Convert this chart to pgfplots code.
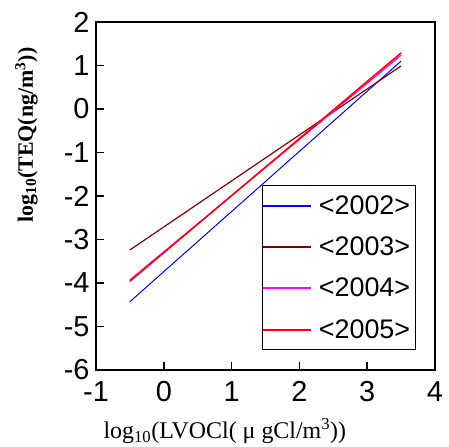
\documentclass[border=0pt]{standalone}
\usepackage{fontspec}
\setmainfont{Liberation Sans}
\newfontfamily\serif{Liberation Serif}
\usepackage{pgfplots}
\pgfplotsset{compat=1.18}
\usetikzlibrary{calc}

\definecolor{c2002}{RGB}{0,0,255}
\definecolor{c2003}{RGB}{128,0,0}
\definecolor{c2004}{RGB}{255,0,255}
\definecolor{c2005}{RGB}{255,0,0}

\begin{document}
\begin{tikzpicture}
  \begin{axis}[
    name=ax,
    scale only axis,
    width=339bp, height=348bp,
    xmin=-1, xmax=4, ymin=-6, ymax=2,
    xtick={-1,0,1,2,3,4}, ytick={-6,-5,-4,-3,-2,-1,0,1,2},
    xtick pos=left, ytick pos=left,
    tick align=inside,
    major tick length=8bp,
    axis line style={line width=1.2pt},
    tick style={line width=1.6pt, black},
    /pgf/number format/assume math mode=true,
    tick label style={font=\fontsize{29}{30}\selectfont},
    xticklabel style={yshift=-8bp},
    yticklabel style={xshift=-3bp},
    xlabel={\serif log\textsubscript{10}(LVOCl( μ gCl/m\textsuperscript{3}))},
    ylabel={\serif\bfseries log\textsubscript{10}(TEQ(ng/m\textsuperscript{3}))},
    xlabel style={font=\fontsize{24}{26}\selectfont, at={(axis description cs:0.38,-0.175)}, anchor=center},
    ylabel style={font=\fontsize{22}{24}\selectfont, at={(axis description cs:-0.205,0.675)}, anchor=center},
    legend style={at={(0.489,0.531)}, anchor=north west,
                  font=\fontsize{27}{30}\selectfont,
                  draw=black, line width=0.8pt,
                  inner xsep=1bp, inner ysep=8bp,
                  row sep=17bp,
                  cells={anchor=west}},
    legend image code/.code={
      \fill[#1, draw=none] (0bp,-1bp) rectangle (48bp,1bp);
      \path (53bp,0bp);},
  ]
    \addplot[c2002, line width=1pt] coordinates {(-0.5,-4.43) (3.5,1.10)};
    \addlegendentry{<2002>\hspace*{2bp}}
    \addplot[c2003, line width=1.2pt] coordinates {(-0.5,-3.24) (3.5,0.99)};
    \addlegendentry{<2003>\hspace*{2bp}}
    \addplot[c2004, line width=1.3pt] coordinates {(-0.5,-3.93) (3.5,1.24)};
    \addlegendentry{<2004>\hspace*{2bp}}
    \addplot[c2005, line width=1.5pt] coordinates {(-0.5,-3.96) (3.5,1.29)};
    \addlegendentry{<2005>\hspace*{2bp}}
  \end{axis}
  \path ($(ax.south west)+(-96bp,-73bp)$) rectangle ($(ax.north east)+(14bp,22bp)$);
\end{tikzpicture}
\end{document}
